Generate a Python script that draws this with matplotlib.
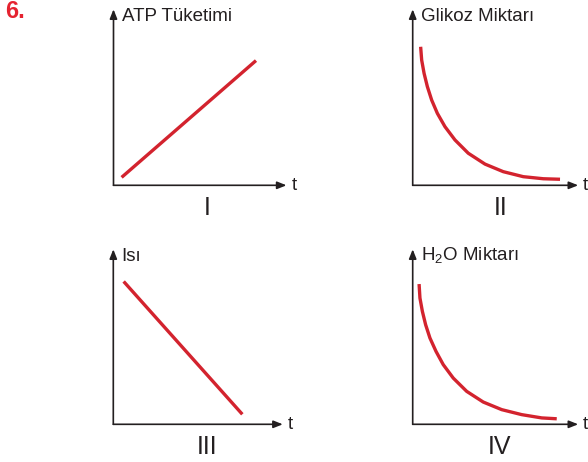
import matplotlib
matplotlib.use("Agg")
import matplotlib.pyplot as plt

W, H, DPI = 588, 462, 100
UNIT = 17.25  # pixels per data unit on every panel

INK = "#231f20"
RED = "#d3232e"

# Panel I: ATP consumption rises linearly
t_atp = [0.47, 8.26]
atp = [0.46, 7.23]

# Panel II: glucose amount decays
t_glu = [0.46, 0.52, 0.66, 0.85, 1.10, 1.43, 1.87, 2.45, 3.22, 4.19, 5.25, 6.41, 7.57, 8.54]
glu = [8.03, 7.26, 6.49, 5.72, 4.94, 4.17, 3.40, 2.63, 1.86, 1.23, 0.79, 0.50, 0.38, 0.35]

# Panel III: heat falls linearly
t_heat = [0.60, 7.48]
heat = [8.28, 0.58]

# Panel IV: water amount decays
t_h2o = [0.37, 0.42, 0.56, 0.75, 1.00, 1.35, 1.77, 2.35, 3.13, 4.09, 5.16, 6.32, 7.48, 8.35]
h2o = [8.13, 7.32, 6.55, 5.77, 5.00, 4.23, 3.46, 2.68, 1.91, 1.29, 0.85, 0.56, 0.37, 0.32]

ylabels = ["ATP Tüketimi", "Glikoz Miktarı", "Isı", r"H$_{\mathsf{2}}$O Miktarı"]
numerals = ["I", "II", "III", "IV"]

plt.rcParams["font.family"] = ["Liberation Sans", "DejaVu Sans"]
plt.rcParams["mathtext.fontset"] = "custom"
plt.rcParams["mathtext.rm"] = "Liberation Sans"
plt.rcParams["mathtext.sf"] = "Liberation Sans"

fig = plt.figure(figsize=(W / DPI, H / DPI), dpi=DPI)

# panel frames in pixels: left, origin y (from top), width, height, numeral x
frames = [
    (113.5, 185.3, 173.0, 176.0, 206.7),
    (412.7, 185.3, 165.5, 176.0, 501.0),
    (113.3, 424.3, 169.5, 175.0, 206.7),
    (412.7, 424.3, 165.5, 175.0, 500.0),
]
series = [(t_atp, atp), (t_glu, glu), (t_heat, heat), (t_h2o, h2o)]

for (left, oy, w, h, cx), (tx, ty), lab, num in zip(frames, series, ylabels, numerals):
    ax = fig.add_axes([left / W, (H - oy) / H, w / W, h / H])
    ax.set_xlim(0, w / UNIT)
    ax.set_ylim(0, h / UNIT)
    for s in ax.spines.values():
        s.set_visible(False)
    ax.set_xticks([])
    ax.set_yticks([])
    ax.patch.set_alpha(0)

    ax.plot(tx, ty, color=RED, lw=2.4, solid_capstyle="butt",
            solid_joinstyle="round", clip_on=False)

    arrow = dict(arrowstyle="-|>,head_length=0.55,head_width=0.22",
                 color=INK, lw=1.2, shrinkA=0, shrinkB=0)
    ax.annotate("", xy=(1, 0), xytext=(0, 0), xycoords="axes fraction",
                arrowprops=arrow, annotation_clip=False)
    ax.annotate("", xy=(0, 1), xytext=(0, 0), xycoords="axes fraction",
                arrowprops=arrow, annotation_clip=False)

    ax.text(8.0 / w, 1 - 7 / h, lab, transform=ax.transAxes, fontsize=13.5,
            color=INK, ha="left", va="center")
    ax.text(1 + 5 / w, 0, "t", transform=ax.transAxes, fontsize=13.5,
            color=INK, ha="left", va="center")
    fig.text(cx / W, 1 - (oy + 23) / H, num, fontsize=18, color=INK,
             ha="center", va="center")

fig.text(5 / W, 1 - 11.5 / H, "6.", fontsize=17, fontweight="bold",
         color="#e52330", ha="left", va="center")

fig.savefig("out.png", dpi=DPI)
